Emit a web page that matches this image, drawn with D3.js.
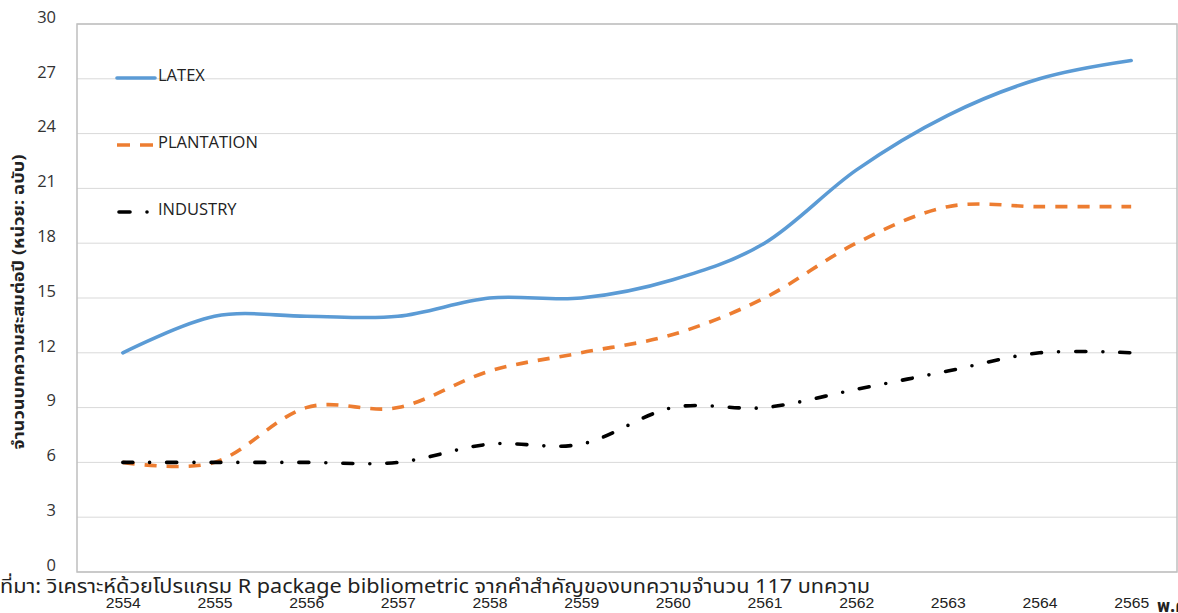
<!DOCTYPE html>
<html><head><meta charset="utf-8">
<script src="https://cdn.jsdelivr.net/npm/d3@7"></script>
<style>html,body{margin:0;padding:0;background:#fff;}svg{display:block;}</style>
</head><body><svg id="c" width="1178" height="613"></svg>
<script>
const years = ["2554","2555","2556","2557","2558","2559","2560","2561","2562","2563","2564","2565"];
const latex = [12,14,14,14,15,15,16,18,22,25,27,28];
const plantation = [6,6,9,9,11,12,13,15,18,20,20,20];
const industry = [6,6,6,6,7,7,9,9,10,11,12,12];
const yTicks = [0,3,6,9,12,15,18,21,24,27,30];
const seriesNames = ["LATEX","PLANTATION","INDUSTRY"];

const svg = d3.select("#c");
const L=77, R=1177, T=24, B=572;
const x = d3.scalePoint().domain(years).range([L,R]).padding(0.5);
const y = d3.scaleLinear().domain([0,30]).range([B,T]);

svg.append("g").selectAll("line").data(yTicks).join("line")
  .attr("x1",L).attr("x2",R).attr("y1",d=>y(d)).attr("y2",d=>y(d))
  .attr("stroke","#d9d9d9").attr("stroke-width",1);
svg.append("rect").attr("x",L).attr("y",T).attr("width",R-L).attr("height",B-T)
  .attr("fill","none").attr("stroke","#bfbfbf").attr("stroke-width",1.5);

const ya = svg.append("g").attr("transform",`translate(${L},0)`)
  .call(d3.axisLeft(y).tickValues(yTicks).tickSize(0).tickPadding(21));
ya.select(".domain").remove();
ya.selectAll("text").attr("font-family","'Open Sans','Noto Sans',sans-serif").attr("font-size",16.5).attr("fill","#333").attr("dy","-0.1em");

const xa = svg.append("g").attr("transform",`translate(0,${B})`)
  .call(d3.axisBottom(x).tickSize(0).tickPadding(25));
xa.select(".domain").remove();
xa.selectAll("text").attr("font-family","'Liberation Sans Narrow','Liberation Sans',sans-serif").attr("font-size",15.5).attr("fill","#222")
  .attr("textLength",35).attr("lengthAdjust","spacingAndGlyphs");

svg.append("text").attr("x",1157).attr("y",612).text("พ.ศ.")
  .attr("font-family","'Noto Sans Thai','Noto Sans',sans-serif").attr("font-weight","bold").attr("font-size",18).attr("fill","#222");

svg.append("text").attr("transform","translate(24,302) rotate(-90)").attr("text-anchor","middle")
  .attr("font-family","'Noto Sans Thai','Noto Sans',sans-serif").attr("font-weight","bold").attr("font-size",16).attr("fill","#222")
  .attr("textLength",295).attr("lengthAdjust","spacingAndGlyphs")
  .text("จำนวนบทความสะสมต่อปี (หน่วย: ฉบับ)");

svg.append("text").attr("x",0).attr("y",593)
  .attr("font-family","'Noto Sans Thai','Noto Sans',sans-serif").attr("font-size",19.5).attr("fill","#222")
  .attr("textLength",870).attr("lengthAdjust","spacingAndGlyphs")
  .text("ที่มา: วิเคราะห์ด้วยโปรแกรม R package bibliometric จากคำสำคัญของบทความจำนวน 117 บทความ");

const styles = [
  {data:latex,color:"#5b9bd5",dash:null,cap:"round"},
  {data:plantation,color:"#ed7d31",dash:"12 10",cap:"butt"},
  {data:industry,color:"#000",dash:"10 17 0 17",cap:"round"}
];
const line = d3.line().x((d,i)=>x(years[i])).y(d=>y(d)).curve(d3.curveCardinal.tension(0));
styles.forEach(s=>{
  svg.append("path").attr("d",line(s.data)).attr("fill","none")
    .attr("stroke",s.color).attr("stroke-width",3.6).attr("stroke-linecap",s.cap)
    .attr("stroke-dasharray",s.dash);
});

const legY=[78,145,212];
seriesNames.forEach((n,i)=>{
  const s=styles[i];
  svg.append("line").attr("x1",i==2?119:117).attr("x2",i==2?148:155).attr("y1",legY[i]).attr("y2",legY[i])
    .attr("stroke",s.color).attr("stroke-width",3.6).attr("stroke-linecap",s.cap)
    .attr("stroke-dasharray",i==1?"13 10":(i==2?"11 17 0 17":null));
  svg.append("text").attr("x",158).attr("y",legY[i]-1).attr("dominant-baseline","middle")
    .attr("font-family","'Open Sans','Noto Sans',sans-serif").attr("font-size",16.5).attr("fill","#222").text(n);
});
</script></body></html>
